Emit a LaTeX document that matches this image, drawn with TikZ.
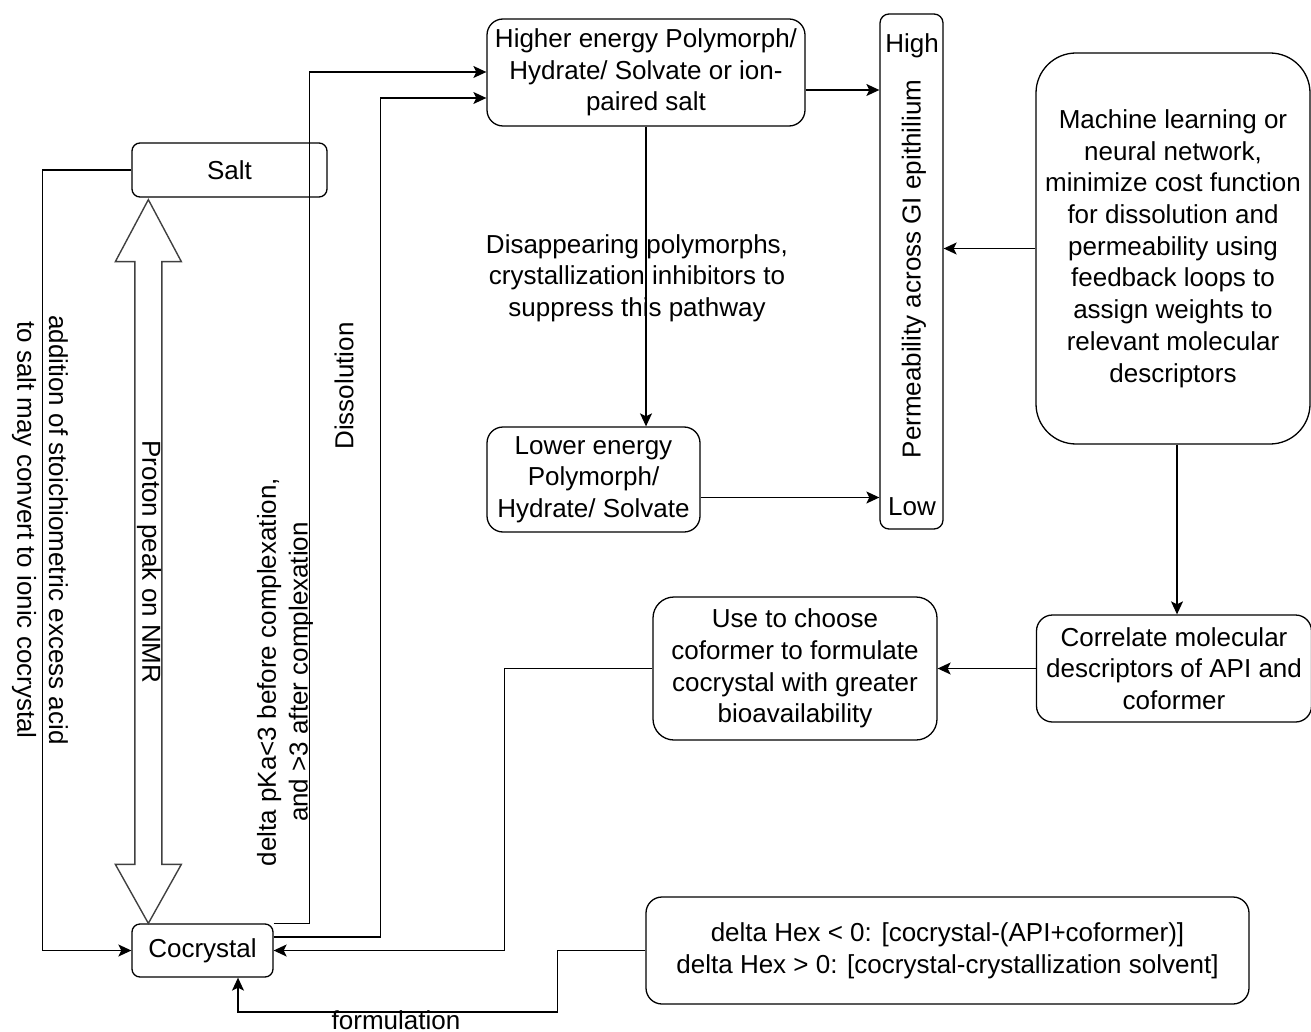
\documentclass[tikz,border=0pt]{standalone}
\usepackage{fontspec}
\setmainfont{Liberation Sans}
\usetikzlibrary{arrows.meta,calc}
\begin{document}
\begin{tikzpicture}[x=1pt,y=-1pt,
  every node/.style={font=\fontsize{26}{31.7}\selectfont},
  box/.style={draw, line width=1.3pt, rounded corners=#1, inner sep=0pt, align=center},
  conn/.style={line width=1.3pt, -{Stealth[length=13pt,width=12pt,inset=3pt]}},
  lab/.style={align=center, inner sep=0pt},
  hollow/.style={draw=black!75, line width=1.4pt, line join=miter}
]
\useasboundingbox (0,0) rectangle (1311,1032);

% boxes
\node[box=8pt, minimum width=195pt, minimum height=54pt] (salt) at (229.5,170) {Salt};
\node[box=8pt, minimum width=141pt, minimum height=53pt] (coc) at (202.5,950.5) {Cocrystal};
\node[box=16pt, minimum width=318pt, minimum height=107pt] (high) at (646,72.5)
  {Higher energy Polymorph/\\Hydrate/ Solvate or ion-\\paired salt};
\node[box=16pt, minimum width=213pt, minimum height=105pt] (low) at (593.5,479.5)
  {Lower energy\\Polymorph/\\Hydrate/ Solvate};
\node[box=9pt, minimum width=63pt, minimum height=515pt] (perm) at (911.5,271.5) {};
\node[lab] (permhigh) at (912,46) {High};
\node[lab] (permlow) at (912,507) {Low};
\node[lab, rotate=90] (permtext) at (914,269) {Permeability across GI epithilium};
\node[box=40pt, minimum width=274pt, minimum height=391pt] (ml) at (1173,248.5)
  {Machine learning or\\neural network,\\minimize cost function\\for dissolution and\\permeability using\\feedback loops to\\assign weights to\\relevant molecular\\descriptors};
\node[box=16pt, minimum width=275pt, minimum height=107pt] (corr) at (1174,668.5)
  {Correlate molecular\\descriptors of API and\\coformer};
\node[box=21pt, minimum width=284pt, minimum height=143pt] (use) at (795,668.5)
  {Use to choose\\coformer to formulate\\cocrystal with greater\\bioavailability};
\node[box=16pt, minimum width=603pt, minimum height=107pt] (hex) at (947.5,950.5)
  {delta Hex < 0: [cocrystal-(API+coformer)]\\delta Hex > 0: [cocrystal-crystallization solvent]};

% free labels
\node[lab] (dis) at (637,278) {Disappearing polymorphs,\\crystallization inhibitors to\\suppress this pathway};
\node[lab, rotate=-90] (addl) at (40,530) {addition of stoichiometric excess acid\\to salt may convert to ionic cocrystal};
\node[lab, rotate=90] (pka) at (285,672) {delta pKa<3 before complexation,\\and >3 after complexation};
\node[lab, rotate=90] (dissol) at (344,386) {Dissolution};
\node[lab, anchor=base] (form) at (396,1029) {formulation};

% hollow double arrow
\coordinate (dt) at ($(salt.south west)+(17,2)$);
\coordinate (db) at ($(coc.north west)+(17,0)$);
\draw[hollow] (dt) -- ++(33,62) -- ++(-19.5,0) -- ($(db)+(13.5,-59)$) -- ++(19.5,0) -- (db)
  -- ++(-33,-59) -- ++(19.5,0) -- ($(dt)+(-13.5,62)$) -- ++(-19.5,0) -- cycle;
\node[lab, rotate=-90] (nmr) at (149,562) {Proton peak on NMR};

% connectors
\draw[conn] (salt.west) -- ++(-89,0) |- (coc.west);
\draw[conn] (coc.north east) -- ++(36,0) |- ($(high.west)+(0,-0.5)$);
\coordinate (c2) at ($(coc.east)+(0,-13.5)$);
\draw[conn] (c2) -- ++(107,0) |- ($(high.west)+(0,25.5)$);
\draw[conn] (use.west) -- ++(-148,0) |- (coc.east);
\draw[conn] (hex.west) -- ++(-88,0) -- ++(0,61.5) -| ($(coc.south)+(35.5,0)$);
\coordinate (h1) at ($(high.east)+(0,17.5)$);
\draw[conn] (h1) -- (h1 -| perm.west);
\coordinate (l1) at ($(low.east)+(0,18)$);
\draw[conn] (l1) -- (l1 -| perm.west);
\draw[conn] (high.south) -- (high.south |- low.north);
\draw[conn] (ml.west) -- (ml.west -| perm.east);
\draw[conn] ($(ml.south)+(4,0)$) -- ($(ml.south |- corr.north)+(4,0)$);
\draw[conn] (corr.west) -- (corr.west -| use.east);
\end{tikzpicture}
\end{document}
